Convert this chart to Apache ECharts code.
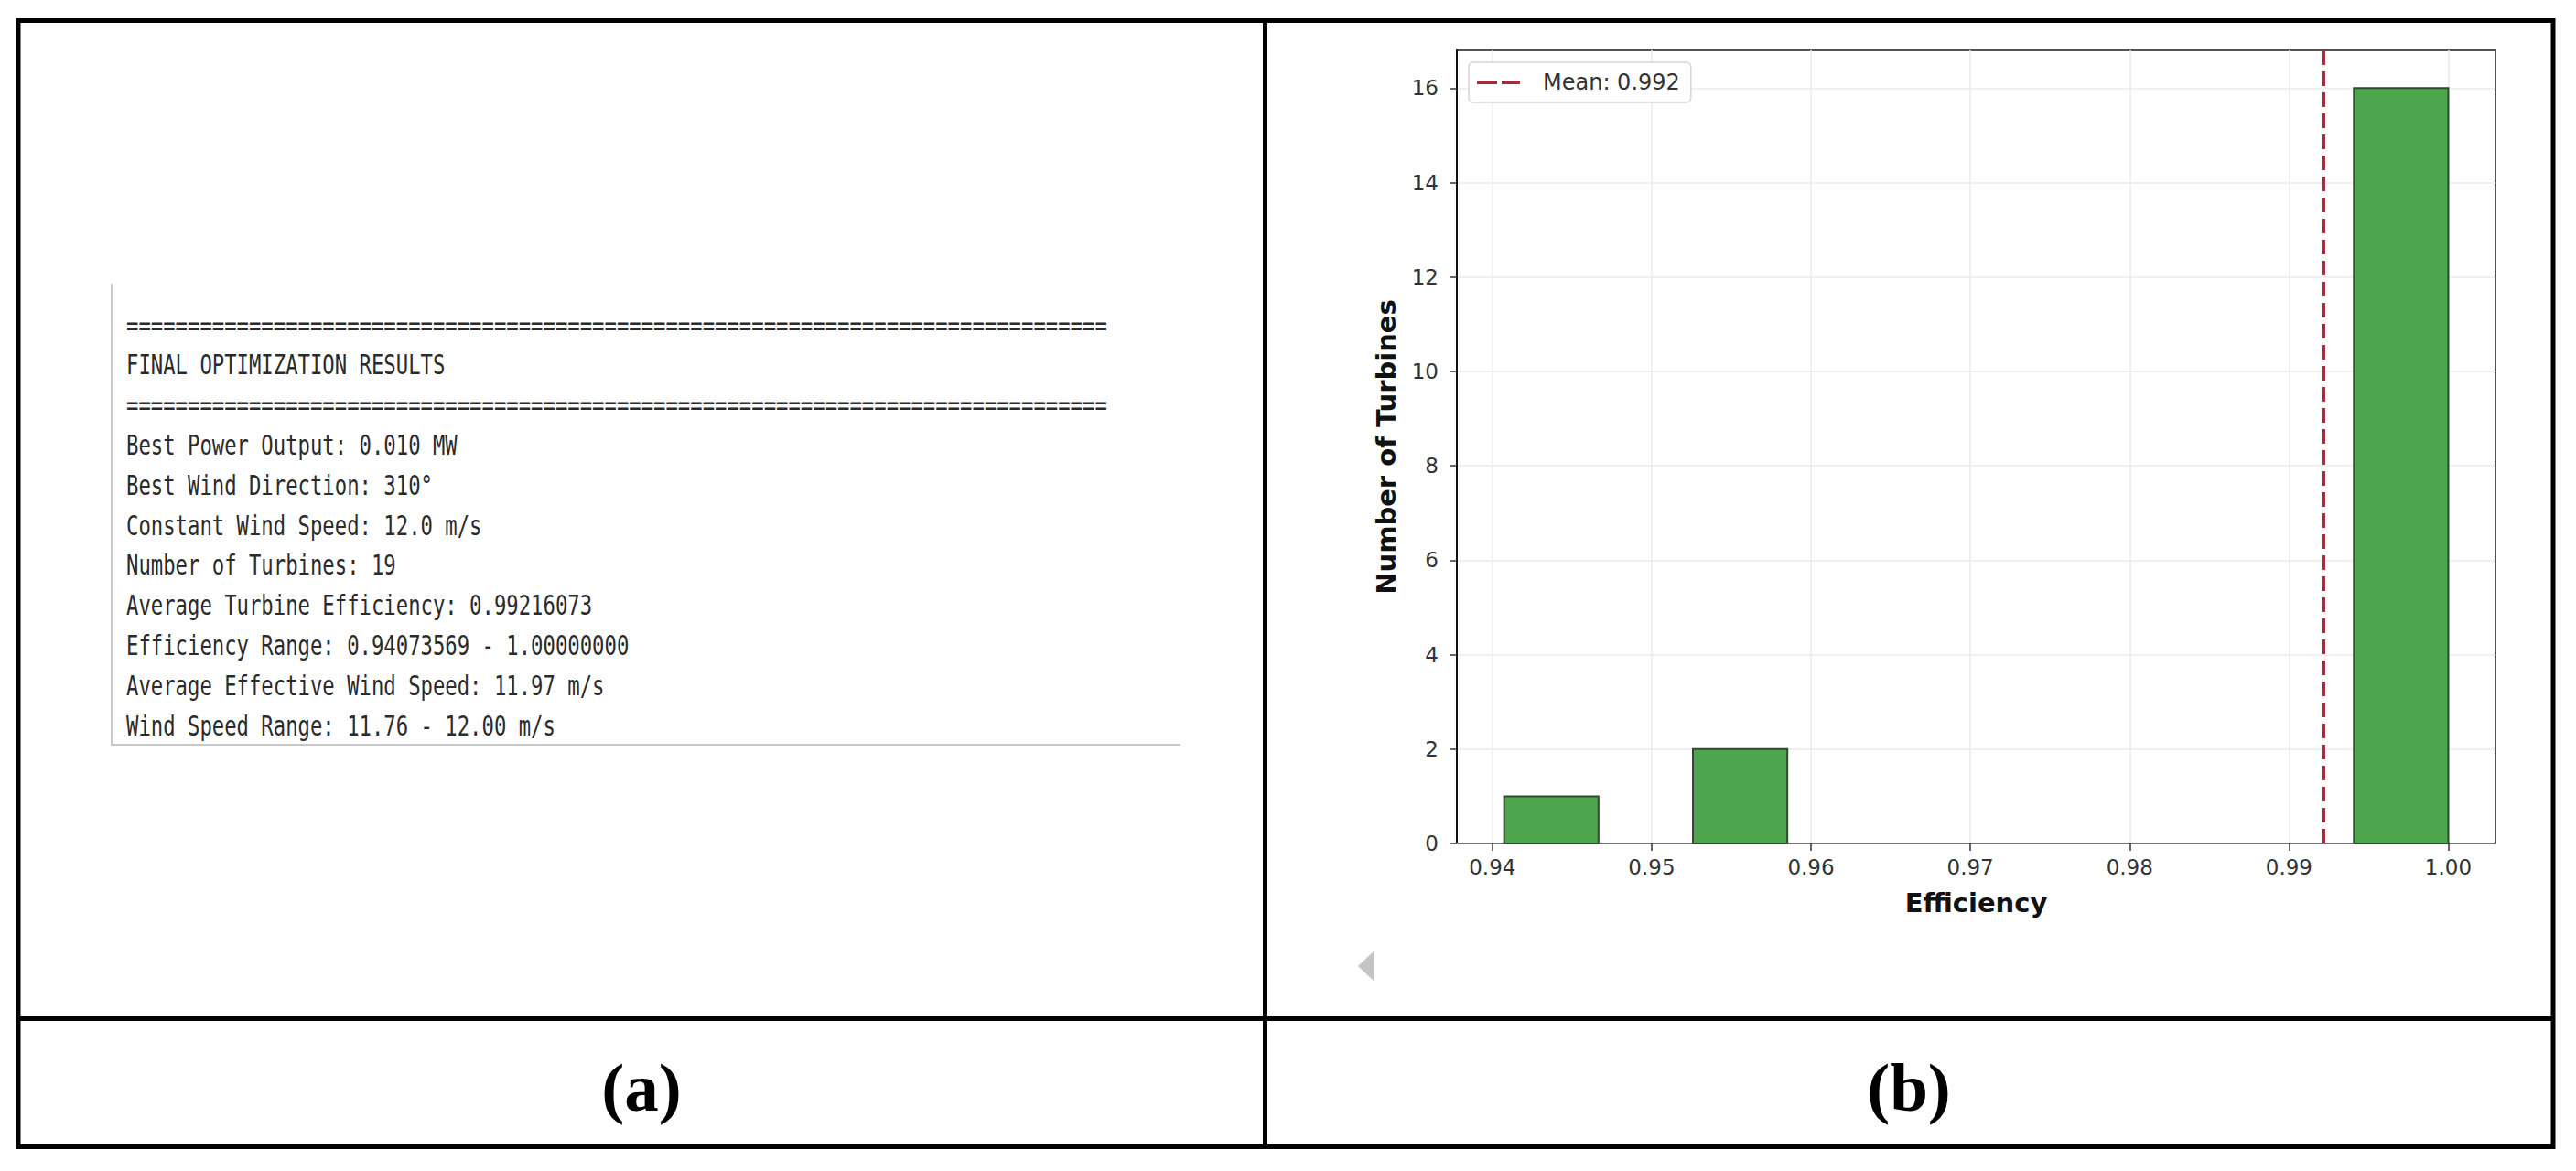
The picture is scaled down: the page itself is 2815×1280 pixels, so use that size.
<!DOCTYPE html>
<html>
<head>
<meta charset="utf-8">
<title>Turbine efficiency results</title>
<script src="https://cdn.jsdelivr.net/npm/echarts@6/dist/echarts.min.js"></script>
<style>
  html, body { margin: 0; padding: 0; background: #fff; }
  #chart { width: 2815px; height: 1280px; }
</style>
</head>
<body>
<div id="chart"></div>
<script>
  // panel (a): printed optimisation summary
  var resultLines = [
    '='.repeat(80),
    'FINAL OPTIMIZATION RESULTS',
    '='.repeat(80),
    'Best Power Output: 0.010 MW',
    'Best Wind Direction: 310°',
    'Constant Wind Speed: 12.0 m/s',
    'Number of Turbines: 19',
    'Average Turbine Efficiency: 0.99216073',
    'Efficiency Range: 0.94073569 - 1.00000000',
    'Average Effective Wind Speed: 11.97 m/s',
    'Wind Speed Range: 11.76 - 12.00 m/s'
  ];
  var panelLabels = ['(a)', '(b)'];

  // panel (b): efficiency histogram (10 bins)
  var binEdges = [0.94073569, 0.94666212, 0.95258855, 0.95851498, 0.96444141, 0.97036785,
                  0.97629428, 0.98222071, 0.98814714, 0.99407357, 1.00000000];
  var binCounts = [1, 0, 2, 0, 0, 0, 0, 0, 0, 16];
  var meanEfficiency = 0.99216073;
  var xTicks = [0.94, 0.95, 0.96, 0.97, 0.98, 0.99, 1.00];
  var yTicks = [0, 2, 4, 6, 8, 10, 12, 14, 16];
  var xRange = [0.93777, 1.00296];
  var yRange = [0, 16.8];

  var meanName = 'Mean: ' + meanEfficiency.toFixed(3);
  var meanColor = '#9e2f40';
  var histData = binCounts.map(function (c, i) {
    return [binEdges[i], binEdges[i + 1], c];
  });

  var tickFont = { fontFamily: 'DejaVu Sans', fontSize: 23, color: '#333' };
  var nameFont = { fontFamily: 'DejaVu Sans', fontSize: 29, fontWeight: 'bold', color: '#111' };

  var graphics = [];
  // table frame
  graphics.push({ type: 'rect', shape: { x: 20, y: 22.5, width: 2770, height: 1231 },
    style: { fill: 'none', stroke: '#000', lineWidth: 5 } });
  graphics.push({ type: 'line', shape: { x1: 1382.5, y1: 22.5, x2: 1382.5, y2: 1253.5 },
    style: { stroke: '#000', lineWidth: 5 } });
  graphics.push({ type: 'line', shape: { x1: 20, y1: 1113.5, x2: 2790, y2: 1113.5 },
    style: { stroke: '#000', lineWidth: 5 } });
  // console screenshot edge
  graphics.push({ type: 'polyline', shape: { points: [[122, 310], [122, 814], [1290, 814]] },
    style: { fill: 'none', stroke: '#c8c8c8', lineWidth: 2 } });
  resultLines.forEach(function (line, i) {
    graphics.push({
      type: 'text', x: 138, y: 354.8 + 43.8 * i, scaleX: 0.742,
      style: { text: line, font: '30px "DejaVu Sans Mono"', fill: '#2b2b2b',
        textAlign: 'left', textVerticalAlign: 'middle' }
    });
  });
  // stray scroll arrow
  graphics.push({ type: 'polygon', shape: { points: [[1484, 1056], [1501, 1040], [1501, 1072]] },
    style: { fill: '#c4c4c4' } });
  // (a) / (b)
  [701, 2086].forEach(function (cx, i) {
    graphics.push({
      type: 'text', x: cx, y: 1188,
      style: { text: panelLabels[i], font: 'bold 75px "Liberation Serif"', fill: '#000',
        textAlign: 'center', textVerticalAlign: 'middle' }
    });
  });

  var option = {
    animation: false,
    backgroundColor: '#fff',
    grid: {
      left: 1592, top: 55, width: 1135, height: 867,
      show: true, borderColor: '#555', borderWidth: 2, backgroundColor: 'transparent'
    },
    legend: {
      data: [meanName],
      left: 1605, top: 68,
      icon: 'path://M0,0H22V4H0Z M27,0H47V4H27Z',
      itemWidth: 47, itemHeight: 4,
      itemStyle: { color: meanColor },
      padding: [10, 12, 10, 9],
      borderColor: '#d6d6d6', borderWidth: 1.5, borderRadius: 5,
      backgroundColor: '#fff',
      textStyle: { fontFamily: 'DejaVu Sans', fontSize: 24, color: '#333', padding: [0, 0, 0, 20] }
    },
    xAxis: {
      type: 'value',
      min: xRange[0], max: xRange[1],
      name: 'Efficiency', nameLocation: 'middle', nameGap: 50,
      nameTextStyle: nameFont,
      axisLine: { show: true, onZero: false, lineStyle: { color: '#777', width: 2 } },
      axisTick: { show: true, customValues: xTicks, length: 8, lineStyle: { color: '#333', width: 1.5 } },
      axisLabel: Object.assign({ customValues: xTicks, margin: 14,
        formatter: function (v) { return v.toFixed(2); } }, tickFont),
      splitLine: { show: true, lineStyle: { color: '#ebebeb', width: 1.5 } }
    },
    yAxis: {
      type: 'value',
      min: yRange[0], max: yRange[1],
      name: 'Number of Turbines', nameLocation: 'middle', nameGap: 63, nameRotate: 90,
      nameTextStyle: nameFont,
      axisLine: { show: true, lineStyle: { color: '#111', width: 2 } },
      axisTick: { show: true, customValues: yTicks, length: 8, lineStyle: { color: '#333', width: 1.5 } },
      axisLabel: Object.assign({ customValues: yTicks, margin: 20 }, tickFont),
      splitLine: { show: true, lineStyle: { color: '#ebebeb', width: 1.5 } }
    },
    series: [
      {
        type: 'custom',
        name: 'Efficiency',
        data: histData,
        encode: { x: [0, 1], y: 2 },
        renderItem: function (params, api) {
          var count = api.value(2);
          if (!count) return;
          var p0 = api.coord([api.value(0), count]);
          var p1 = api.coord([api.value(1), 0]);
          return {
            type: 'rect',
            shape: { x: p0[0], y: p0[1], width: p1[0] - p0[0], height: p1[1] - p0[1] },
            style: { fill: '#4da64d', stroke: '#2f4a2f', lineWidth: 2 }
          };
        }
      },
      {
        type: 'line',
        name: meanName,
        data: [[meanEfficiency, yRange[0]], [meanEfficiency, yRange[1]]],
        symbol: 'none',
        z: 3,
        lineStyle: { color: meanColor, width: 4, type: [16, 7] },
        itemStyle: { color: meanColor }
      }
    ],
    graphic: graphics
  };

  var myChart = echarts.init(document.getElementById('chart'), null, { renderer: 'svg' });
  myChart.setOption(option);
</script>
</body>
</html>
